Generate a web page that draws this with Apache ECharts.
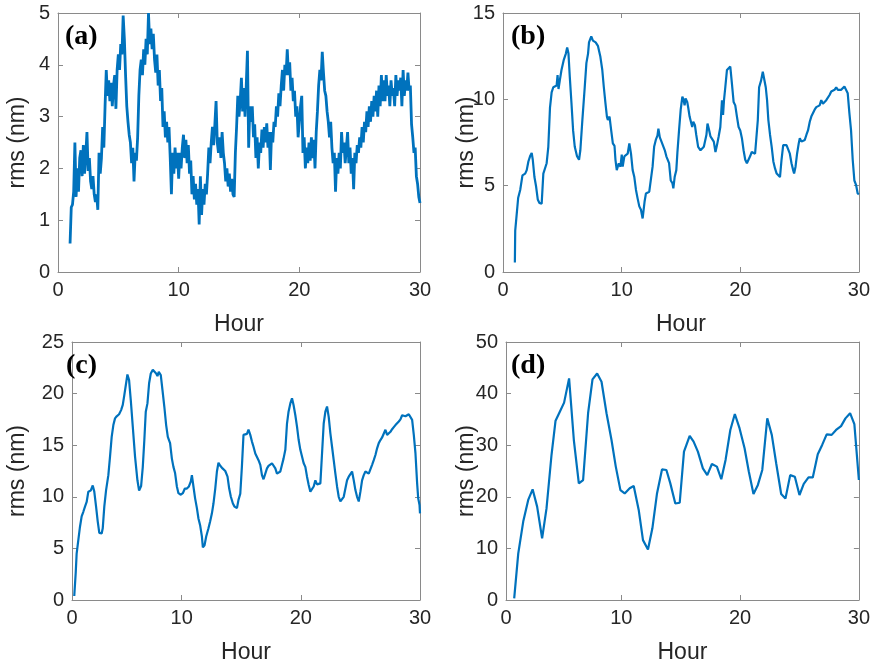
<!DOCTYPE html>
<html>
<head>
<meta charset="utf-8">
<script src="https://cdn.jsdelivr.net/npm/echarts@6/dist/echarts.min.js"></script>
<style>html,body{margin:0;padding:0;background:#fff}#chart{width:873px;height:667px}</style>
</head>
<body>
<div id="chart"></div>
<script>
// ---- Data ----
// Panel (a): sampled every 0.1 h from hour 1.0 to 30.0
const aStartHour = 1.0;
const aStepHour = 0.1;
const aValues = [
0.55,1.25,1.3,1.55,2.5,1.45,2.0,1.55,2.2,2.35,1.85,
2.45,1.9,2.25,2.7,1.95,2.2,1.75,1.6,1.85,1.5,
1.35,1.5,1.2,2.3,1.9,2.2,2.8,2.4,3.2,3.9,
3.4,3.7,3.3,3.65,3.2,3.6,3.8,3.15,3.9,4.2,
3.9,4.4,4.2,4.95,4.5,3.8,3.2,2.9,2.65,2.5,
2.1,2.4,1.75,2.3,2.15,2.6,3.4,3.9,4.1,3.8,
4.3,4.0,4.5,4.2,5.0,4.4,4.7,4.3,4.6,4.1,
3.85,4.2,3.6,3.9,3.3,3.55,2.8,3.1,2.6,2.9,
2.5,2.8,2.2,1.5,2.3,1.9,2.4,2.0,2.3,1.8,
2.3,2.0,2.4,2.65,2.2,2.55,2.1,2.45,1.9,2.15,
1.5,1.85,1.4,1.7,1.3,1.6,0.92,1.85,1.1,1.6,
1.3,1.7,1.5,1.9,2.4,2.1,2.5,2.8,2.45,2.85,
3.3,2.5,2.3,2.6,2.2,2.7,2.3,2.1,1.75,2.0,
1.65,1.9,1.55,1.8,1.5,1.45,2.3,2.8,3.4,3.0,
3.3,3.75,3.1,3.55,3.0,3.6,4.27,2.4,3.2,2.9,
3.2,2.6,2.85,2.2,2.6,2.0,2.5,2.3,2.75,2.4,
2.8,2.5,2.87,2.4,2.7,1.97,2.7,2.5,2.9,2.8,
3.2,3.0,3.45,3.2,3.6,3.9,3.5,4.0,3.8,4.3,
3.8,4.05,3.5,3.75,3.3,3.5,3.0,3.2,2.6,2.9,
3.2,3.4,2.3,2.6,2.0,2.4,2.1,2.5,2.15,2.6,
2.2,2.55,2.0,2.7,3.1,3.6,3.9,3.7,4.25,3.85,
3.5,3.4,3.1,2.9,2.6,2.9,2.4,2.1,2.3,1.55,
2.2,1.9,2.3,2.0,2.7,2.3,2.5,2.1,2.4,2.7,
2.1,2.4,1.9,2.2,1.6,2.3,2.1,2.45,2.3,2.6,
2.4,2.8,2.5,2.9,2.7,3.1,2.8,3.2,2.9,3.3,
3.0,3.4,3.1,3.5,3.0,3.6,3.2,3.8,3.3,3.7,
3.3,3.8,3.4,3.6,3.2,3.7,3.4,3.55,3.2,3.8,
3.4,3.7,3.5,3.75,3.2,3.9,3.4,3.7,3.5,3.85,
3.5,3.6,2.85,2.6,2.3,2.4,1.85,1.7,1.45,1.33
];

// Panel (b)
const bHours = [1.0,1.03,1.11,1.28,1.45,1.64,1.87,2.0,2.14,2.28,2.42,2.51,2.65,2.79,2.93,3.07,3.26,3.4,3.54,3.68,3.82,3.96,4.1,4.24,4.38,4.52,4.6,4.68,4.79,4.93,5.13,5.3,5.41,5.52,5.63,5.77,5.91,6.05,6.24,6.41,6.52,6.69,6.89,7.03,7.17,7.25,7.44,7.58,7.81,8.0,8.2,8.37,8.5,8.64,8.76,8.84,8.98,9.12,9.26,9.4,9.48,9.59,9.76,9.9,10.01,10.09,10.23,10.37,10.51,10.65,10.79,10.93,11.07,11.21,11.35,11.49,11.63,11.77,11.85,11.94,12.05,12.19,12.33,12.47,12.61,12.74,12.88,13.02,13.1,13.22,13.36,13.5,13.64,13.77,14.0,
14.14,14.28,14.36,14.47,14.61,14.7,14.84,14.98,15.12,15.23,15.31,15.39,15.53,15.62,15.73,15.84,15.95,16.04,16.18,16.29,16.45,16.65,16.79,16.93,17.07,17.15,17.24,17.35,17.49,17.63,17.77,17.91,18.04,18.18,18.32,18.41,18.46,18.55,18.63,18.74,18.88,19.02,19.16,19.3,19.44,19.58,19.72,19.86,20.0,20.14,20.28,20.42,20.56,20.7,20.83,20.97,21.11,21.25,21.39,21.48,21.59,21.76,21.9,22.01,22.15,22.26,22.37,22.51,22.65,22.79,22.93,23.07,23.21,23.35,23.48,23.62,23.76,23.9,24.04,24.18,24.32,24.46,24.54,24.66,24.79,24.93,25.02,25.16,25.3,25.44,25.58,25.71,25.86,25.99,26.13,26.27,26.41,26.55,26.69,26.83,26.97,27.11,27.25,27.39,27.53,27.67,27.81,27.95,28.09,28.23,28.37,28.51,28.65,28.78,28.92,29.06,29.2,29.34,29.48,29.62,29.76,29.9,30.0];
const bValues = [0.55,2.4,3.0,4.3,4.75,5.6,5.7,5.9,6.4,6.7,6.9,6.5,5.5,4.95,4.2,4.0,3.95,5.7,5.8,6.3,7.25,9.5,10.4,10.7,10.7,10.8,11.4,10.6,11.1,11.7,12.3,12.65,13.0,12.65,11.3,9.8,8.2,7.25,6.7,6.5,7.05,8.8,10.7,12.1,12.65,13.3,13.65,13.4,13.3,13.1,12.5,11.7,10.7,9.75,9.0,8.8,9.0,8.2,7.45,7.3,6.5,5.9,6.3,6.1,6.8,6.1,6.7,6.8,6.85,7.45,6.85,5.9,5.5,4.75,4.25,3.8,3.6,3.1,3.2,4.1,4.55,4.65,4.65,4.75,6.1,7.25,7.65,7.9,8.3,7.8,7.55,7.45,7.05,6.7,6.3,
5.3,5.15,4.85,5.5,5.9,6.9,8.2,9.4,10.15,9.95,9.65,10.05,9.85,9.5,9.0,8.9,8.4,8.7,8.5,7.95,7.25,7.05,6.95,7.25,7.35,7.95,8.6,8.3,7.85,7.85,7.55,6.95,7.35,7.85,8.4,9.4,9.95,9.1,9.95,10.7,11.7,11.8,11.9,10.9,9.85,9.65,9.0,8.4,8.2,7.75,7.05,6.5,6.3,6.4,6.7,6.95,6.95,6.85,6.85,8.8,10.7,11.1,11.6,11.5,10.7,9.95,8.8,7.95,7.25,6.4,6.0,5.7,5.6,5.5,6.5,7.35,7.45,7.35,7.25,6.85,6.3,5.9,5.7,6.1,6.85,7.45,7.75,7.55,7.45,7.65,7.95,8.2,8.7,9.0,9.1,9.4,9.55,9.6,9.65,9.95,9.75,9.85,9.95,10.05,10.25,10.45,10.55,10.55,10.7,10.55,10.65,10.55,10.65,10.75,10.75,10.35,9.2,8.2,6.5,5.3,5.05,4.55,4.5];

// Panel (c)
const cHours = [0.99,1.11,1.19,1.33,1.47,1.61,1.75,1.89,2.03,2.17,2.37,2.54,2.67,2.82,2.96,3.09,3.29,3.38,3.51,3.66,3.85,3.99,4.13,4.27,4.41,4.55,4.75,4.92,5.06,5.19,5.34,5.45,5.59,5.73,5.9,6.09,6.29,6.43,6.6,6.74,6.87,6.99,7.13,7.27,7.41,7.58,7.71,7.86,7.97,8.08,8.25,8.39,8.55,8.7,8.84,9.03,9.18,9.31,9.45,9.6,9.73,9.93,10.1,10.27,10.44,10.61,10.77,10.86,10.99,11.13,11.28,11.41,11.55,11.7,11.78,11.92,12.06,12.25,12.39,12.54,12.67,12.82,12.96,13.09,13.24,13.43,13.66,13.85,13.99,14.13,14.3,14.44,14.64,14.77,14.92,15.06,15.19,15.34,15.48,15.61,15.76,15.9,16.03,16.18,16.32,16.45,16.6,16.74,16.87,17.02,17.16,17.29,17.44,17.58,17.71,17.86,18.0,18.13,18.28,18.42,18.55,18.7,18.84,18.97,19.12,19.26,19.39,19.54,19.68,19.82,19.96,20.1,20.24,20.38,20.52,20.66,20.8,20.94,21.08,21.22,21.36,21.5,21.64,21.78,21.92,22.06,22.2,22.34,22.48,22.62,22.76,22.9,23.04,23.18,23.32,23.46,23.6,23.74,23.88,24.02,24.16,24.3,24.44,24.58,24.72,24.86,25.0,25.14,25.28,25.42,25.56,25.7,25.84,25.98,26.12,26.26,26.4,26.54,26.68,26.82,26.96,27.1,27.24,27.38,27.52,27.66,27.8,27.94,28.08,28.22,28.36,28.5,28.64,28.78,28.92,29.06,29.2,29.34,29.48,29.62,29.76,29.85,29.96,30.0];
const cValues = [0.39,2.6,4.5,5.8,7.1,8.1,8.55,9.05,9.5,10.5,10.6,11.1,10.5,9.05,7.6,6.5,6.45,6.95,9.05,10.65,12.1,13.9,15.8,16.95,17.6,17.8,18.0,18.4,18.9,19.85,21.0,21.85,21.3,19.4,16.8,13.9,11.6,10.6,11.05,12.9,15.5,18.25,19.05,21.0,21.95,22.3,22.35,21.95,21.7,22.1,21.8,20.35,18.7,16.95,15.8,15.2,13.7,12.9,12.3,11.0,10.35,10.2,10.35,10.8,10.8,11.0,11.5,12.1,11.0,9.85,8.9,7.9,7.25,6.15,5.1,5.3,6.15,6.95,7.6,8.4,9.35,10.8,12.45,13.3,13.0,12.75,12.5,11.95,10.8,10.0,9.35,9.05,8.9,9.7,10.3,13.0,16.0,16.15,16.1,16.5,16.0,15.35,14.85,14.2,14.05,13.55,13.1,12.1,11.7,11.8,12.75,13.0,13.1,13.25,13.35,12.75,12.25,12.1,12.45,13.1,13.7,14.55,17.1,18.25,19.05,19.55,18.9,17.9,16.8,15.5,14.55,13.9,13.25,12.9,11.95,11.15,10.5,10.5,11.0,11.6,11.2,11.15,11.3,14.2,17.1,18.25,18.75,17.75,16.15,14.85,13.55,12.25,11.0,10.0,9.55,9.55,10.0,10.8,11.6,11.95,12.2,12.45,11.6,10.65,10.0,9.55,10.5,11.6,12.1,12.45,12.45,12.25,12.2,13.1,13.55,14.05,14.7,15.2,15.5,15.75,15.8,16.5,16.0,16.15,16.3,16.55,16.75,16.95,17.1,17.3,17.5,17.9,17.9,17.8,17.9,18.0,17.9,17.45,16.0,14.2,11.3,9.85,9.2,8.4];

// Panel (d)
const dHours = [0.99,1.33,1.75,2.17,2.54,2.92,3.34,3.71,4.13,4.47,4.83,5.19,5.61,6.01,6.43,6.79,7.21,7.58,7.97,8.34,8.76,9.18,9.54,9.93,10.29,10.71,11.05,11.47,11.83,12.25,12.62,13.01,13.43,13.8,14.13,14.55,14.92,15.28,15.76,16.09,16.45,16.87,17.24,17.63,18.05,18.42,18.78,19.18,19.56,19.96,20.38,20.74,21.13,21.5,21.87,22.29,22.67,23.04,23.46,23.82,24.22,24.61,25.0,25.36,25.76,26.12,26.54,26.91,27.29,27.71,28.08,28.5,28.87,29.26,29.62,30.0];
const dValues = [0.3,9.0,15.2,19.4,21.45,18.1,11.95,17.75,28.1,34.75,36.5,38.25,42.95,31.0,22.6,23.25,36.2,42.75,43.9,42.3,36.2,31.0,25.85,21.3,20.65,21.65,22.1,17.45,11.6,9.8,13.9,20.65,25.3,25.2,22.6,18.7,18.85,28.75,31.8,30.7,28.75,25.5,24.2,26.35,25.85,23.4,27.15,32.95,36.05,33.25,29.4,24.85,20.55,22.3,25.2,35.2,32.0,26.5,20.55,19.65,24.2,23.9,20.35,22.5,23.75,23.75,28.25,30.05,32.1,32.0,32.95,33.7,35.2,36.2,34.1,23.25];

// Axes settings per panel
const panelLabels = ['(a)', '(b)', '(c)', '(d)'];
const yMax = [5, 15, 25, 50];
const yStep = [1, 5, 5, 10];
// x axis start per panel (bottom panels start slightly after 0; their first label reads "0")
const xMin = [0, 0, 0.8, 0.3];
const xMax = 30;
// x tick positions and labels per panel
const xTickPos = [[0, 10, 20, 30], [0, 10, 20, 30], [0.8, 10, 20, 30], [0.3, 10, 20, 30]];
const xTickLabels = ['0', '10', '20', '30'];

// ---- Build chart ----
const aHours = aValues.map((_, i) => +(aStartHour + i * aStepHour).toFixed(2));
const zip = (xs, ys) => xs.map((x, i) => [x, ys[i]]);
const seriesData = [zip(aHours, aValues), zip(bHours, bValues), zip(cHours, cValues), zip(dHours, dValues)];

const grids = [
  {left: 58, top: 13, width: 362, height: 259},
  {left: 503, top: 13, width: 358, height: 259},
  {left: 72, top: 342, width: 348, height: 258},
  {left: 506, top: 342, width: 355, height: 258}
];
const yNameGap = [29, 25, 43, 28];
const FONT = '"Liberation Sans", Arial, sans-serif';
const axisLineStyle = {color: '#8a8a8a', width: 1};

const xAxes = [], yAxes = [], series = [], graphics = [];
grids.forEach((g, i) => {
  const pos = xTickPos[i];
  const innerTicks = pos.filter(v => v > xMin[i] && v < xMax);
  const tickX = {show: true, inside: true, length: 5, lineStyle: {color: '#8a8a8a', width: 1}, customValues: innerTicks};
  const tickY = {show: true, inside: true, length: 5, lineStyle: {color: '#8a8a8a', width: 1}};
  xAxes.push({
    gridIndex: i, type: 'value', min: xMin[i], max: xMax, position: 'bottom',
    axisLine: {show: true, onZero: false, lineStyle: axisLineStyle},
    axisTick: tickX, splitLine: {show: false},
    axisLabel: {
      fontSize: 20, color: '#262626', fontFamily: FONT, margin: 8,
      customValues: pos, showMinLabel: true, showMaxLabel: true,
      formatter: (v) => xTickLabels[pos.findIndex(p => Math.abs(p - v) < 1e-6)]
    },
    name: 'Hour', nameLocation: 'middle', nameGap: 41,
    nameTextStyle: {fontSize: 23, color: '#262626', fontFamily: FONT}
  });
  xAxes.push({
    gridIndex: i, type: 'value', min: xMin[i], max: xMax, position: 'top',
    axisLine: {show: true, onZero: false, lineStyle: axisLineStyle},
    axisTick: tickX, splitLine: {show: false}, axisLabel: {show: false, customValues: pos}
  });
  yAxes.push({
    gridIndex: i, type: 'value', min: 0, max: yMax[i], interval: yStep[i], position: 'left',
    axisLine: {show: true, onZero: false, lineStyle: axisLineStyle},
    axisTick: tickY, splitLine: {show: false},
    axisLabel: {fontSize: 20, color: '#262626', fontFamily: FONT, margin: 8},
    name: 'rms (nm)', nameLocation: 'middle', nameGap: yNameGap[i], nameMoveOverlap: false,
    nameTextStyle: {fontSize: 23, color: '#262626', fontFamily: FONT}
  });
  yAxes.push({
    gridIndex: i, type: 'value', min: 0, max: yMax[i], interval: yStep[i], position: 'right',
    axisLine: {show: true, onZero: false, lineStyle: axisLineStyle},
    axisTick: tickY, splitLine: {show: false}, axisLabel: {show: false}
  });
  series.push({
    type: 'line', xAxisIndex: i * 2, yAxisIndex: i * 2, data: seriesData[i],
    showSymbol: false, symbol: 'none', sampling: null,
    lineStyle: {color: '#0072BD', width: i === 0 ? 2.8 : 2.2},
    z: 3
  });
});

const labelPos = [[65, 23], [511, 23], [66, 352], [511, 352]];
panelLabels.forEach((t, i) => {
  graphics.push({
    type: 'text', left: labelPos[i][0], top: labelPos[i][1], z: 10,
    style: {text: t, font: 'bold 28px "Liberation Serif", "Times New Roman", serif', fill: '#000'}
  });
});

const chart = echarts.init(document.getElementById('chart'), null, {renderer: 'canvas'});
chart.setOption({
  animation: false,
  backgroundColor: '#ffffff',
  grid: grids,
  xAxis: xAxes,
  yAxis: yAxes,
  series: series,
  graphic: graphics
});
</script>
</body>
</html>
